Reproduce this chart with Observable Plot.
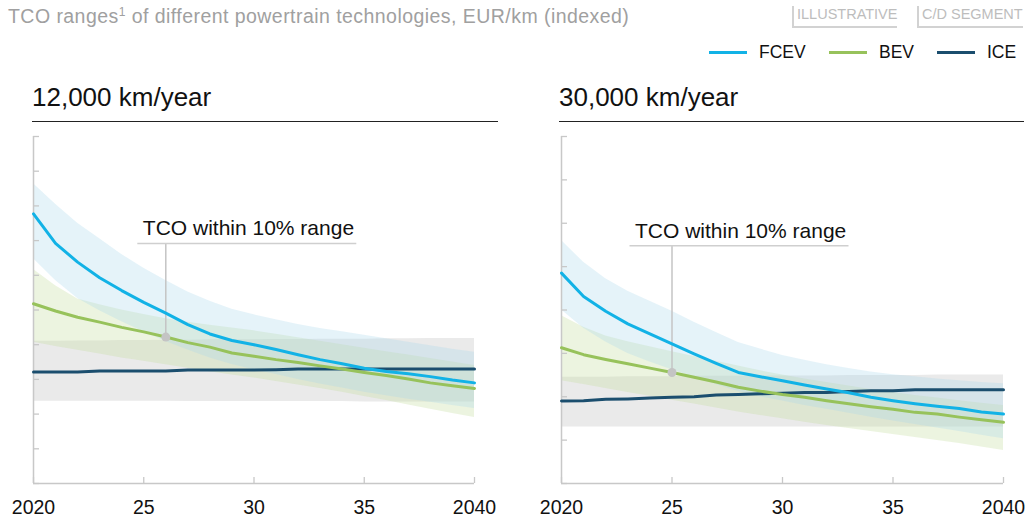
<!DOCTYPE html>
<html><head><meta charset="utf-8">
<script src="https://cdn.jsdelivr.net/npm/d3@7"></script>
<script src="https://cdn.jsdelivr.net/npm/@observablehq/plot@0.6"></script>
<style>
body{margin:0;background:#fff;font-family:"Liberation Sans",Arial,Helvetica,sans-serif;}
#wrap{position:relative;width:1025px;height:517px;overflow:hidden;background:#fff;}
.abs{position:absolute;white-space:nowrap;line-height:1;}
.tag{position:absolute;font-size:14.5px;color:#bdbdbd;line-height:1;border-left:2px solid #d2d2d2;border-bottom:2px solid #d2d2d2;padding:1px 0 4px 3px;}
.legline{position:absolute;height:3px;}
.ptitle{position:absolute;font-size:26px;color:#111;line-height:1;white-space:nowrap;}
.pline{position:absolute;height:0;border-top:1.3px solid #222;}
#left,#right{position:absolute;top:125px;}
#left{left:0;} #right{left:520px;}
</style></head><body>
<div id="wrap">
  <div class="abs" style="left:8px;top:7px;font-size:19.5px;letter-spacing:0.45px;color:#a0a0a0;">TCO ranges<sup style="font-size:12px;vertical-align:7px;line-height:0">1</sup> of different powertrain technologies, EUR/km (indexed)</div>
  <div class="tag" style="left:792px;top:6px;">ILLUSTRATIVE</div>
  <div class="tag" style="left:917px;top:6px;">C/D SEGMENT</div>
  <div id="legend"></div>
  <div class="ptitle" style="left:32px;top:84px;">12,000 km/year</div>
  <div class="pline" style="left:32px;top:121px;width:466px;"></div>
  <div class="ptitle" style="left:559px;top:84px;">30,000 km/year</div>
  <div class="pline" style="left:559px;top:121px;width:465px;"></div>
  <div id="left"></div>
  <div id="right"></div>
</div>
<script>
// ---- data ----
const years = [2020,2021,2022,2023,2024,2025,2026,2027,2028,2029,2030,2031,2032,2033,2034,2035,2036,2037,2038,2039,2040];
const xTicks = [2020, 2025, 2030, 2035, 2040];
const xTickLabels = ["2020", "25", "30", "35", "2040"];
const series = ["FCEV", "BEV", "ICE"];
const seriesColors = ["#12b2e6", "#97c25b", "#1b4e6e"];
const annotLabel = "TCO within 10% range";

// 12,000 km/year (indexed units)
const leftYTicks = [0,1,2,3,4,5,6,7,8,9,10];
const leftFCEV   = [7.77,6.92,6.38,5.93,5.56,5.22,4.91,4.58,4.31,4.12,4.00,3.86,3.71,3.57,3.45,3.32,3.23,3.16,3.08,2.98,2.90];
const leftFCEVhi = [8.64,8.05,7.50,7.05,6.60,6.20,5.85,5.52,5.25,5.02,4.86,4.72,4.58,4.47,4.37,4.27,4.17,4.07,3.97,3.87,3.78];
const leftFCEVlo = [6.48,5.85,5.33,4.98,4.66,4.37,4.09,3.85,3.62,3.43,3.28,3.14,3.00,2.87,2.75,2.63,2.53,2.43,2.34,2.25,2.16];
const leftBEV    = [5.18,4.97,4.79,4.65,4.50,4.37,4.22,4.06,3.93,3.76,3.67,3.57,3.49,3.39,3.30,3.20,3.11,3.01,2.90,2.82,2.74];
const leftBEVhi  = [6.17,5.70,5.32,5.15,5.00,4.87,4.75,4.65,4.56,4.48,4.40,4.30,4.20,4.10,4.00,3.90,3.80,3.70,3.60,3.50,3.40];
const leftBEVlo  = [4.07,3.95,3.84,3.73,3.62,3.52,3.42,3.32,3.22,3.13,3.04,2.94,2.84,2.74,2.63,2.51,2.39,2.26,2.14,2.02,1.90];
const leftICE    = [3.21,3.21,3.21,3.24,3.24,3.24,3.24,3.27,3.27,3.27,3.27,3.28,3.30,3.30,3.30,3.30,3.30,3.30,3.30,3.30,3.30];
const leftICEhi  = [4.10,4.10,4.11,4.11,4.12,4.12,4.13,4.13,4.14,4.14,4.14,4.15,4.15,4.16,4.16,4.16,4.17,4.17,4.18,4.18,4.18];
const leftICElo  = [2.37,2.37,2.37,2.37,2.37,2.37,2.37,2.36,2.36,2.36,2.36,2.36,2.36,2.36,2.36,2.35,2.35,2.35,2.35,2.35,2.35];
const leftAnnotYear = 2026, leftAnnotTop = 6.92;

// 30,000 km/year (indexed units)
const rightYTicks = [0,1,2,3,4,5,6,7,8];
const rightFCEV   = [4.85,4.31,3.97,3.68,3.45,3.22,2.99,2.77,2.56,2.46,2.37,2.27,2.18,2.09,1.99,1.91,1.84,1.78,1.73,1.65,1.60];
const rightFCEVhi = [5.60,5.10,4.72,4.43,4.20,3.97,3.72,3.48,3.25,3.10,2.95,2.84,2.74,2.65,2.57,2.51,2.46,2.41,2.37,2.33,2.30];
const rightFCEVlo = [4.00,3.58,3.26,3.00,2.80,2.62,2.45,2.28,2.12,2.00,1.90,1.80,1.71,1.62,1.53,1.44,1.36,1.28,1.20,1.11,1.03];
const rightBEV    = [3.13,2.97,2.86,2.76,2.66,2.56,2.45,2.34,2.22,2.13,2.05,1.99,1.91,1.84,1.77,1.71,1.64,1.60,1.53,1.47,1.41];
const rightBEVhi  = [3.87,3.60,3.40,3.27,3.15,3.04,2.93,2.82,2.71,2.60,2.50,2.41,2.33,2.25,2.17,2.10,2.03,1.97,1.91,1.85,1.80];
const rightBEVlo  = [2.37,2.28,2.19,2.10,2.01,1.92,1.83,1.74,1.65,1.57,1.49,1.41,1.34,1.27,1.20,1.13,1.06,0.99,0.92,0.84,0.76];
const rightICE    = [1.90,1.91,1.94,1.95,1.97,1.99,2.00,2.04,2.05,2.07,2.08,2.10,2.10,2.12,2.14,2.14,2.16,2.16,2.16,2.16,2.16];
const rightICEhi  = [2.45,2.45,2.45,2.46,2.46,2.46,2.47,2.47,2.47,2.48,2.48,2.48,2.48,2.49,2.49,2.49,2.49,2.50,2.50,2.50,2.50];
const rightICElo  = [1.30,1.30,1.30,1.30,1.30,1.30,1.30,1.30,1.30,1.30,1.30,1.30,1.30,1.30,1.30,1.30,1.30,1.30,1.30,1.30,1.30];
const rightAnnotYear = 2025, rightAnnotTop = 5.48;

// ---- legend ----
const legendPos = [[709, 759], [829, 879], [937, 987]];
const legend = document.getElementById("legend");
series.forEach((s, i) => {
  const ln = document.createElement("div");
  ln.className = "legline";
  ln.style.cssText = `left:${legendPos[i][0]}px;top:50.5px;width:38px;background:${seriesColors[i]};`;
  legend.appendChild(ln);
  const tx = document.createElement("div");
  tx.className = "abs";
  tx.style.cssText = `left:${legendPos[i][1]}px;top:43.6px;font-size:17.5px;color:#111;`;
  tx.textContent = s;
  legend.appendChild(tx);
});

// ---- panels ----
const FONT = '"Liberation Sans",Arial,Helvetica,sans-serif';
const AXIS = "#c8c8c8";
function rows(v, lo, hi) { return years.map((year, i) => ({year, v: v[i], lo: lo[i], hi: hi[i]})); }

function panel(cfg) {
  const H = 392, mt = 11, mb = 34;
  const plotW = cfg.width - cfg.ml - cfg.mr;
  const plotH = H - mt - mb;
  const fc = rows(cfg.fcev, cfg.fcevLo, cfg.fcevHi);
  const bv = rows(cfg.bev, cfg.bevLo, cfg.bevHi);
  const ic = rows(cfg.ice, cfg.iceLo, cfg.iceHi);
  const annotBev = cfg.bev[years.indexOf(cfg.annotYear)];
  return Plot.plot({
    width: cfg.width, height: H,
    marginLeft: cfg.ml, marginRight: cfg.mr, marginTop: mt, marginBottom: mb,
    x: {domain: [xTicks[0], xTicks[xTicks.length - 1]], label: null},
    y: {domain: [cfg.yTicks[0], cfg.yTicks[cfg.yTicks.length - 1]], axis: null},
    style: {fontFamily: FONT, background: "transparent", overflow: "visible"},
    marks: [
      Plot.areaY(ic, {x: "year", y1: "lo", y2: "hi", fill: "#eaeaea"}),
      Plot.areaY(bv, {x: "year", y1: "lo", y2: "hi", fill: "#c5dc9f", fillOpacity: 0.32}),
      Plot.areaY(fc, {x: "year", y1: "lo", y2: "hi", fill: "#a9d8ea", fillOpacity: 0.3}),
      Plot.ruleX([xTicks[0]], {stroke: AXIS, strokeWidth: 1.5}),
      Plot.ruleY([cfg.yTicks[0]], {stroke: AXIS, strokeWidth: 1.5}),
      Plot.tickY(cfg.yTicks, {y: d => d, stroke: AXIS, strokeWidth: 1.3, insetRight: plotW - 6}),
      Plot.tickX(xTicks, {x: d => d, stroke: AXIS, strokeWidth: 1.3, insetTop: plotH - 6}),
      Plot.axisX({ticks: xTicks, label: null, tickSize: 0, tickPadding: 17, fontSize: 19.5, fill: "#111",
                  tickFormat: d => xTickLabels[xTicks.indexOf(d)]}),
      // annotation
      Plot.ruleX([cfg.annotYear], {x: d => d, y1: annotBev, y2: cfg.annotTop, stroke: "#c4c4c4", strokeWidth: 1.5}),
      Plot.ruleY([cfg.annotTop], {y: d => d, x1: cfg.annotYear, x2: cfg.annotYear, insetLeft: -cfg.ulLeft, insetRight: -cfg.ulRight, stroke: "#cfcfcf", strokeWidth: 1.5}),
      Plot.text([annotLabel], {x: cfg.annotYear, y: cfg.annotTop, text: d => d, textAnchor: "start", lineAnchor: "bottom",
                  dx: cfg.textDx, dy: -8, fontSize: 21, fill: "#111"}),
      // lines
      Plot.line(ic, {x: "year", y: "v", stroke: seriesColors[2], strokeWidth: 3}),
      Plot.line(bv, {x: "year", y: "v", stroke: seriesColors[1], strokeWidth: 3}),
      Plot.line(fc, {x: "year", y: "v", stroke: seriesColors[0], strokeWidth: 3}),
      Plot.dot([cfg.annotYear], {x: d => d, y: annotBev, r: 4.5, fill: "#c4c4c4", stroke: "none"})
    ]
  });
}

document.getElementById("left").appendChild(panel({
  width: 520, ml: 33, mr: 46, yTicks: leftYTicks,
  fcev: leftFCEV, fcevLo: leftFCEVlo, fcevHi: leftFCEVhi,
  bev: leftBEV, bevLo: leftBEVlo, bevHi: leftBEVhi,
  ice: leftICE, iceLo: leftICElo, iceHi: leftICEhi,
  annotYear: leftAnnotYear, annotTop: leftAnnotTop, ulLeft: 28, ulRight: 191, textDx: -23
}));
document.getElementById("right").appendChild(panel({
  width: 505, ml: 41, mr: 22, yTicks: rightYTicks,
  fcev: rightFCEV, fcevLo: rightFCEVlo, fcevHi: rightFCEVhi,
  bev: rightBEV, bevLo: rightBEVlo, bevHi: rightBEVhi,
  ice: rightICE, iceLo: rightICElo, iceHi: rightICEhi,
  annotYear: rightAnnotYear, annotTop: rightAnnotTop, ulLeft: 42, ulRight: 177, textDx: -37
}));
</script>
</body></html>
